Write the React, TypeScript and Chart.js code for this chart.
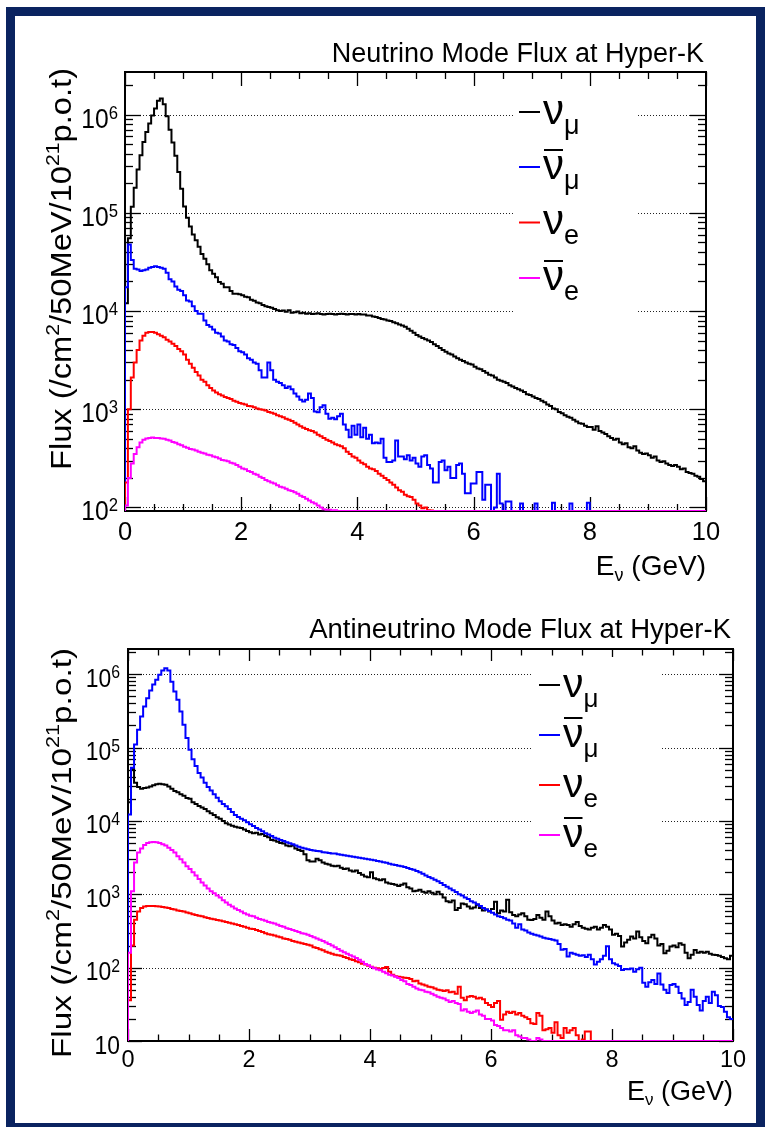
import React, { useEffect, useRef } from "react";
import { Chart, registerables } from "chart.js";

Chart.register(...registerables);

// ---------- data: 200 bins of 50 MeV, 0 - 10 GeV ----------
const N_BINS = 200;
const E_MAX = 10;
const BIN_EDGES: number[] = Array.from({ length: N_BINS + 1 }, (_, i) => (i * E_MAX) / N_BINS);

// Neutrino mode (FHC)
const FHC_NUMU = [
  1.2e4, 5.5e4, 1.15e5, 1.8e5, 2.75e5, 3.85e5, 5.25e5, 6.65e5, 8.1e5, 9.8e5,
  1.15e6, 1.38e6, 1.46e6, 1.27e6, 9.6e5, 7.0e5, 5.2e5, 3.8e5, 2.6e5, 1.76e5,
  1.16e5, 8.9e4, 7.25e4, 6.0e4, 5.25e4, 4.5e4, 3.8e4, 3.4e4, 3.0e4, 2.6e4,
  2.4e4, 2.2e4, 1.97e4, 1.9e4, 1.75e4, 1.75e4, 1.6e4, 1.5e4, 1.5e4, 1.48e4,
  1.45e4, 1.4e4, 1.38e4, 1.3e4, 1.27e4, 1.22e4, 1.2e4, 1.15e4, 1.12e4, 1.1e4,
  1.08e4, 1.05e4, 1.02e4, 1.0e4, 1.01e4, 9.8e3, 1.02e4, 9.6e3, 9.7e3, 9.9e3,
  9.5e3, 9.6e3, 9.4e3, 9.5e3, 9.3e3, 9.4e3, 9.5e3, 9.3e3, 9.2e3, 9.3e3,
  9.4e3, 9.3e3, 9.2e3, 9.3e3, 9.4e3, 9.3e3, 9.2e3, 9.3e3, 9.3e3, 9.2e3,
  9.3e3, 9.2e3, 9.2e3, 9.0e3, 9.0e3, 8.8e3, 8.7e3, 8.5e3, 8.3e3, 8.2e3,
  8.0e3, 7.9e3, 7.7e3, 7.5e3, 7.3e3, 7.1e3, 6.9e3, 6.6e3, 6.3e3, 6.0e3,
  5.7e3, 5.5e3, 5.3e3, 5.15e3, 5.0e3, 4.85e3, 4.6e3, 4.4e3, 4.2e3, 4.0e3,
  3.85e3, 3.7e3, 3.6e3, 3.45e3, 3.3e3, 3.2e3, 3.1e3, 3.0e3, 2.9e3, 2.85e3,
  2.7e3, 2.6e3, 2.55e3, 2.45e3, 2.35e3, 2.25e3, 2.2e3, 2.1e3, 2.0e3, 1.95e3,
  1.9e3, 1.85e3, 1.75e3, 1.7e3, 1.65e3, 1.6e3, 1.55e3, 1.5e3, 1.42e3, 1.4e3,
  1.35e3, 1.3e3, 1.27e3, 1.22e3, 1.18e3, 1.12e3, 1.08e3, 1.02e3, 1.0e3, 9.4e2,
  9.1e2, 8.7e2, 8.4e2, 8.2e2, 7.8e2, 7.5e2, 7.2e2, 7.1e2, 6.8e2, 6.6e2,
  6.6e2, 6.2e2, 6.7e2, 6.0e2, 5.8e2, 5.6e2, 5.3e2, 5.1e2, 4.9e2, 5.0e2,
  4.6e2, 4.4e2, 4.5e2, 4.1e2, 4.0e2, 4.2e2, 3.8e2, 3.6e2, 3.5e2, 3.55e2,
  3.4e2, 3.2e2, 3.3e2, 3.0e2, 2.9e2, 2.95e2, 2.8e2, 2.7e2, 2.65e2, 2.7e2,
  2.6e2, 2.45e2, 2.5e2, 2.3e2, 2.25e2, 2.2e2, 2.1e2, 2.05e2, 1.95e2, 1.85e2,
];
const FHC_NUMUBAR = [
  1.75e4, 4.75e4, 3.3e4, 2.7e4, 2.65e4, 2.55e4, 2.6e4, 2.65e4, 2.75e4, 2.8e4,
  2.85e4, 2.8e4, 2.75e4, 2.7e4, 2.45e4, 2.1e4, 2.0e4, 1.78e4, 1.65e4, 1.6e4,
  1.45e4, 1.28e4, 1.25e4, 1.12e4, 1.0e4, 9.4e3, 9.4e3, 8.0e3, 7.2e3, 6.9e3,
  6.5e3, 6.0e3, 5.9e3, 5.5e3, 5.0e3, 4.9e3, 4.6e3, 4.5e3, 4.2e3, 3.9e3,
  3.8e3, 3.6e3, 3.3e3, 3.2e3, 3.0e3, 2.9e3, 2.5e3, 2.1e3, 2.1e3, 3.0e3,
  2.5e3, 2.0e3, 1.9e3, 1.85e3, 1.75e3, 1.65e3, 1.7e3, 1.6e3, 1.45e3, 1.35e3,
  1.25e3, 1.2e3, 1.25e3, 1.45e3, 1.3e3, 9.5e2, 9.3e2, 1.05e3, 1.1e3, 9.0e2,
  8.0e2, 8.2e2, 7.9e2, 8.5e2, 9.0e2, 7.0e2, 6.2e2, 5.2e2, 6.8e2, 5.5e2,
  7.0e2, 5.2e2, 6.5e2, 5.0e2, 5.5e2, 4.5e2, 4.6e2, 4.5e2, 5.0e2, 3.2e2,
  2.9e2, 2.9e2, 3.0e2, 4.8e2, 3.3e2, 3.3e2, 3.1e2, 3.4e2, 3.0e2, 3.2e2,
  2.8e2, 2.6e2, 3.3e2, 3.4e2, 2.7e2, 2.5e2, 1.8e2, 1.8e2, 2.9e2, 3.0e2,
  2.4e2, 2.6e2, 2.0e2, 2.0e2, 2.7e2, 2.8e2, 2.2e2, 1.4e2, 1.4e2, 1.75e2,
  1.75e2, 2.3e2, 2.3e2, 1.2e2, 1.7e2, 1.7e2, 0, 1.0e2, 2.2e2, 1.1e2,
  0, 1.15e2, 1.15e2, 0, 0, 0, 1.1e2, 0, 0, 0,
  0, 1.1e2, 0, 0, 0, 0, 0, 1.12e2, 0, 0,
  0, 0, 0, 1.1e2, 0, 0, 0, 0, 0, 1.12e2,
  0, 0, 0, 0, 0, 0, 0, 0, 0, 0,
  0, 0, 0, 0, 0, 0, 0, 0, 0, 0,
  0, 0, 0, 0, 0, 0, 0, 0, 0, 0,
  0, 0, 0, 0, 0, 0, 0, 0, 0, 0,
];
const FHC_NUE = [
  1.8e2, 1.0e3, 2.1e3, 3.0e3, 4.0e3, 5.0e3, 5.6e3, 6.0e3, 6.1e3, 6.1e3,
  6.0e3, 5.8e3, 5.6e3, 5.4e3, 5.1e3, 4.9e3, 4.65e3, 4.4e3, 4.1e3, 3.9e3,
  3.6e3, 3.2e3, 2.9e3, 2.65e3, 2.4e3, 2.2e3, 2.0e3, 1.9e3, 1.75e3, 1.65e3,
  1.55e3, 1.48e3, 1.42e3, 1.38e3, 1.33e3, 1.3e3, 1.27e3, 1.22e3, 1.19e3, 1.16e3,
  1.14e3, 1.12e3, 1.08e3, 1.07e3, 1.05e3, 1.02e3, 1.0e3, 9.9e2, 9.7e2, 9.4e2,
  9.2e2, 9.0e2, 8.7e2, 8.5e2, 8.3e2, 8.0e2, 7.8e2, 7.6e2, 7.3e2, 7.0e2,
  6.7e2, 6.5e2, 6.3e2, 6.1e2, 6.0e2, 5.8e2, 5.5e2, 5.3e2, 5.1e2, 4.9e2,
  4.75e2, 4.6e2, 4.4e2, 4.3e2, 4.2e2, 4.0e2, 3.7e2, 3.5e2, 3.3e2, 3.2e2,
  3.0e2, 2.85e2, 2.75e2, 2.6e2, 2.5e2, 2.45e2, 2.35e2, 2.2e2, 2.1e2, 2.0e2,
  1.9e2, 1.8e2, 1.7e2, 1.6e2, 1.5e2, 1.45e2, 1.35e2, 1.3e2, 1.28e2, 1.2e2,
  1.1e2, 1.05e2, 9.8e1, 1.0e2, 9.4e1, 9.3e1, 0, 0, 0, 0,
  0, 0, 0, 0, 0, 0, 0, 0, 0, 0,
  0, 0, 0, 0, 0, 0, 0, 0, 0, 0,
  0, 0, 0, 0, 0, 0, 0, 0, 0, 0,
  0, 0, 0, 0, 0, 0, 0, 0, 0, 0,
  0, 0, 0, 0, 0, 0, 0, 0, 0, 0,
  0, 0, 0, 0, 0, 0, 0, 0, 0, 0,
  0, 0, 0, 0, 0, 0, 0, 0, 0, 0,
  0, 0, 0, 0, 0, 0, 0, 0, 0, 0,
  0, 0, 0, 0, 0, 0, 0, 0, 0, 0,
];
const FHC_NUEBAR = [
  1.05e2, 2.0e2, 2.8e2, 3.5e2, 4.1e2, 4.6e2, 4.9e2, 5.05e2, 5.1e2, 5.15e2,
  5.1e2, 5.1e2, 5.05e2, 5.0e2, 4.9e2, 4.8e2, 4.65e2, 4.55e2, 4.4e2, 4.3e2,
  4.15e2, 4.05e2, 3.95e2, 3.9e2, 3.8e2, 3.7e2, 3.6e2, 3.55e2, 3.45e2, 3.4e2,
  3.3e2, 3.25e2, 3.15e2, 3.05e2, 3.0e2, 2.95e2, 2.85e2, 2.8e2, 2.7e2, 2.6e2,
  2.5e2, 2.45e2, 2.35e2, 2.3e2, 2.2e2, 2.15e2, 2.05e2, 2.0e2, 1.9e2, 1.85e2,
  1.8e2, 1.75e2, 1.68e2, 1.63e2, 1.6e2, 1.55e2, 1.5e2, 1.47e2, 1.43e2, 1.38e2,
  1.32e2, 1.28e2, 1.23e2, 1.18e2, 1.13e2, 1.1e2, 1.05e2, 1.0e2, 9.6e1, 9.5e1,
  9.5e1, 9.3e1, 9.4e1, 0, 0, 0, 0, 0, 0, 0,
  0, 0, 0, 0, 0, 0, 0, 0, 0, 0,
  0, 0, 0, 0, 0, 0, 0, 0, 0, 0,
  0, 0, 0, 0, 0, 0, 0, 0, 0, 0,
  0, 0, 0, 0, 0, 0, 0, 0, 0, 0,
  0, 0, 0, 0, 0, 0, 0, 0, 0, 0,
  0, 0, 0, 0, 0, 0, 0, 0, 0, 0,
  0, 0, 0, 0, 0, 0, 0, 0, 0, 0,
  0, 0, 0, 0, 0, 0, 0, 0, 0, 0,
  0, 0, 0, 0, 0, 0, 0, 0, 0, 0,
  0, 0, 0, 0, 0, 0, 0, 0, 0, 0,
  0, 0, 0, 0, 0, 0, 0, 0, 0, 0,
  0, 0, 0, 0, 0, 0, 0, 0, 0, 0,
];

// Antineutrino mode (RHC)
const RHC_NUMU = [
  1.8e4, 5.1e4, 3.3e4, 2.9e4, 2.75e4, 2.8e4, 2.85e4, 2.95e4, 3.05e4, 3.15e4,
  3.2e4, 3.15e4, 3.1e4, 2.95e4, 2.75e4, 2.55e4, 2.45e4, 2.3e4, 2.2e4, 2.05e4,
  2.0e4, 1.8e4, 1.7e4, 1.6e4, 1.52e4, 1.45e4, 1.35e4, 1.27e4, 1.2e4, 1.12e4,
  1.07e4, 1.0e4, 9.3e3, 8.9e3, 8.6e3, 8.3e3, 8.1e3, 8.0e3, 7.6e3, 7.3e3,
  7.0e3, 6.8e3, 6.9e3, 6.5e3, 6.6e3, 6.2e3, 6.0e3, 5.5e3, 5.4e3, 5.2e3,
  5.0e3, 4.9e3, 4.6e3, 4.5e3, 4.6e3, 4.2e3, 4.0e3, 3.9e3, 3.5e3, 2.9e3,
  2.8e3, 2.8e3, 3.05e3, 2.9e3, 2.7e3, 2.6e3, 2.55e3, 2.45e3, 2.4e3, 2.45e3,
  2.3e3, 2.2e3, 2.25e3, 2.1e3, 2.05e3, 2.1e3, 1.95e3, 1.85e3, 1.75e3, 1.7e3,
  2.0e3, 1.65e3, 1.6e3, 1.55e3, 1.6e3, 1.45e3, 1.4e3, 1.38e3, 1.35e3, 1.3e3,
  1.35e3, 1.4e3, 1.25e3, 1.2e3, 1.1e3, 1.12e3, 1.15e3, 1.08e3, 1.05e3, 1.1e3,
  1.05e3, 1.0e3, 1.08e3, 1.0e3, 9.0e2, 8.0e2, 7.8e2, 8.2e2, 6.1e2, 6.5e2,
  7.5e2, 7.3e2, 6.8e2, 6.4e2, 6.6e2, 7.2e2, 6.5e2, 6.0e2, 6.2e2, 5.8e2,
  6.3e2, 7.9e2, 5.5e2, 6.0e2, 5.8e2, 8.4e2, 5.7e2, 5.2e2, 5.0e2, 5.3e2,
  5.5e2, 5.0e2, 4.5e2, 4.45e2, 4.6e2, 5.2e2, 4.8e2, 4.5e2, 5.8e2, 5.0e2,
  4.4e2, 4.0e2, 4.1e2, 3.8e2, 3.9e2, 3.8e2, 3.6e2, 3.9e2, 4.2e2, 3.7e2,
  3.5e2, 3.4e2, 3.3e2, 3.5e2, 3.6e2, 3.3e2, 3.5e2, 3.8e2, 3.6e2, 3.3e2,
  2.8e2, 2.9e2, 2.7e2, 1.94e2, 2.2e2, 2.4e2, 2.65e2, 2.5e2, 3.1e2, 2.6e2,
  2.3e2, 2.15e2, 2.6e2, 2.8e2, 2.5e2, 2.0e2, 2.1e2, 1.57e2, 1.7e2, 1.94e2,
  2.0e2, 1.9e2, 2.15e2, 2.05e2, 1.6e2, 1.34e2, 1.5e2, 1.74e2, 1.6e2, 1.65e2,
  1.6e2, 1.65e2, 1.55e2, 1.5e2, 1.49e2, 1.45e2, 1.4e2, 1.34e2, 1.3e2, 1.45e2,
];
const RHC_NUMUBAR = [
  1.22e4, 5.3e4, 1.1e5, 1.75e5, 2.65e5, 3.63e5, 4.7e5, 6.0e5, 7.2e5, 8.4e5,
  9.8e5, 1.12e6, 1.2e6, 1.12e6, 7.9e5, 5.8e5, 4.47e5, 3.1e5, 2.04e5, 1.35e5,
  9.3e4, 6.9e4, 5.6e4, 4.5e4, 3.9e4, 3.3e4, 2.9e4, 2.6e4, 2.3e4, 2.07e4,
  1.85e4, 1.7e4, 1.58e4, 1.45e4, 1.32e4, 1.2e4, 1.13e4, 1.07e4, 1.02e4, 9.6e3,
  9.0e3, 8.5e3, 8.0e3, 7.6e3, 7.2e3, 6.8e3, 6.5e3, 6.2e3, 5.9e3, 5.7e3,
  5.5e3, 5.3e3, 5.1e3, 4.95e3, 4.8e3, 4.6e3, 4.45e3, 4.3e3, 4.2e3, 4.1e3,
  4.0e3, 3.95e3, 3.9e3, 3.85e3, 3.75e3, 3.7e3, 3.65e3, 3.6e3, 3.6e3, 3.5e3,
  3.45e3, 3.4e3, 3.35e3, 3.3e3, 3.25e3, 3.2e3, 3.15e3, 3.1e3, 3.05e3, 3.0e3,
  2.95e3, 2.9e3, 2.85e3, 2.8e3, 2.72e3, 2.68e3, 2.6e3, 2.55e3, 2.5e3, 2.45e3,
  2.4e3, 2.35e3, 2.28e3, 2.2e3, 2.15e3, 2.08e3, 2.0e3, 1.9e3, 1.8e3, 1.72e3,
  1.65e3, 1.58e3, 1.5e3, 1.42e3, 1.34e3, 1.27e3, 1.2e3, 1.13e3, 1.07e3, 1.0e3,
  9.6e2, 9.0e2, 8.6e2, 8.0e2, 7.7e2, 7.3e2, 6.9e2, 6.5e2, 6.2e2, 5.9e2,
  5.6e2, 5.3e2, 5.0e2, 4.9e2, 4.7e2, 4.5e2, 4.4e2, 4.0e2, 3.5e2, 3.9e2,
  3.3e2, 3.2e2, 3.0e2, 2.9e2, 2.8e2, 2.75e2, 2.65e2, 2.55e2, 2.5e2, 2.45e2,
  2.4e2, 2.35e2, 2.1e2, 1.75e2, 1.8e2, 1.42e2, 1.6e2, 1.55e2, 1.5e2, 1.45e2,
  1.48e2, 1.4e2, 1.5e2, 1.3e2, 1.1e2, 1.2e2, 1.3e2, 1.45e2, 1.95e2, 1.3e2,
  1.15e2, 1.1e2, 1.05e2, 9.3e1, 9.6e1, 9.5e1, 9.7e1, 8.8e1, 9.5e1, 1.0e2,
  6.2e1, 5.5e1, 6.3e1, 6.8e1, 6.0e1, 8.3e1, 5.9e1, 5.0e1, 4.5e1, 5.8e1,
  6.0e1, 5.5e1, 4.5e1, 3.8e1, 3.1e1, 3.4e1, 5.0e1, 4.0e1, 3.1e1, 2.6e1,
  3.5e1, 4.0e1, 3.3e1, 4.7e1, 4.2e1, 3.0e1, 2.9e1, 2.5e1, 2.1e1, 2.0e1,
];
const RHC_NUE = [
  3.6e1, 2.0e2, 4.5e2, 5.8e2, 6.5e2, 6.8e2, 6.9e2, 6.9e2, 6.9e2, 6.85e2,
  6.8e2, 6.7e2, 6.6e2, 6.5e2, 6.3e2, 6.2e2, 6.0e2, 5.9e2, 5.8e2, 5.65e2,
  5.5e2, 5.35e2, 5.2e2, 5.1e2, 5.0e2, 4.85e2, 4.75e2, 4.65e2, 4.55e2, 4.45e2,
  4.4e2, 4.3e2, 4.2e2, 4.1e2, 4.0e2, 3.9e2, 3.8e2, 3.7e2, 3.6e2, 3.5e2,
  3.4e2, 3.35e2, 3.25e2, 3.15e2, 3.05e2, 2.95e2, 2.85e2, 2.8e2, 2.75e2, 2.65e2,
  2.6e2, 2.5e2, 2.45e2, 2.4e2, 2.3e2, 2.25e2, 2.2e2, 2.15e2, 2.1e2, 2.05e2,
  2.0e2, 1.9e2, 1.85e2, 1.78e2, 1.72e2, 1.65e2, 1.6e2, 1.55e2, 1.5e2, 1.48e2,
  1.45e2, 1.4e2, 1.35e2, 1.3e2, 1.27e2, 1.22e2, 1.18e2, 1.13e2, 1.1e2, 1.06e2,
  1.03e2, 1.0e2, 9.8e1, 9.6e1, 9.9e1, 1.02e2, 8.8e1, 8.0e1, 7.6e1, 7.5e1,
  7.4e1, 7.3e1, 7.2e1, 7.0e1, 6.5e1, 6.6e1, 6.1e1, 5.9e1, 5.7e1, 5.5e1,
  5.4e1, 5.2e1, 5.0e1, 4.9e1, 4.8e1, 4.9e1, 4.6e1, 4.7e1, 4.4e1, 5.5e1,
  3.9e1, 3.6e1, 4.0e1, 4.1e1, 4.0e1, 3.8e1, 3.9e1, 3.7e1, 3.3e1, 3.1e1,
  2.9e1, 3.3e1, 3.5e1, 1.95e1, 2.3e1, 2.5e1, 2.4e1, 2.5e1, 2.3e1, 2.4e1,
  2.2e1, 2.1e1, 2.0e1, 1.75e1, 1.7e1, 2.4e1, 2.2e1, 1.4e1, 1.45e1, 1.5e1,
  1.3e1, 1.8e1, 1.2e1, 1.1e1, 1.5e1, 1.3e1, 1.4e1, 1.5e1, 1.2e1, 1.0e1,
  1.05e1, 1.35e1, 1.35e1, 0, 0, 0, 0, 0, 0, 0,
  0, 0, 0, 0, 0, 0, 0, 0, 0, 0,
  0, 0, 0, 0, 0, 0, 0, 0, 0, 0,
  0, 0, 0, 0, 0, 0, 0, 0, 0, 0,
  0, 0, 0, 0, 0, 0, 0, 0, 0, 0,
];
const RHC_NUEBAR = [
  1.6e2, 1.1e3, 2.7e3, 3.7e3, 4.2e3, 4.7e3, 5.0e3, 5.1e3, 5.15e3, 5.1e3,
  5.0e3, 4.8e3, 4.6e3, 4.3e3, 4.0e3, 3.7e3, 3.3e3, 3.0e3, 2.7e3, 2.4e3,
  2.2e3, 2.0e3, 1.8e3, 1.62e3, 1.45e3, 1.32e3, 1.2e3, 1.1e3, 1.03e3, 9.6e2,
  9.0e2, 8.3e2, 7.7e2, 7.2e2, 6.8e2, 6.4e2, 6.1e2, 5.8e2, 5.5e2, 5.3e2,
  5.1e2, 5.0e2, 4.8e2, 4.6e2, 4.5e2, 4.35e2, 4.2e2, 4.1e2, 4.0e2, 3.85e2,
  3.7e2, 3.6e2, 3.45e2, 3.35e2, 3.25e2, 3.15e2, 3.05e2, 2.95e2, 2.9e2, 2.8e2,
  2.7e2, 2.6e2, 2.5e2, 2.4e2, 2.3e2, 2.2e2, 2.1e2, 2.0e2, 1.9e2, 1.8e2,
  1.7e2, 1.62e2, 1.55e2, 1.48e2, 1.42e2, 1.35e2, 1.28e2, 1.2e2, 1.12e2, 1.08e2,
  1.02e2, 9.8e1, 9.4e1, 9.2e1, 8.8e1, 8.4e1, 8.0e1, 7.8e1, 7.5e1, 7.2e1,
  6.8e1, 6.5e1, 6.0e1, 5.8e1, 5.5e1, 5.2e1, 5.0e1, 4.9e1, 4.7e1, 4.6e1,
  4.4e1, 4.2e1, 4.0e1, 3.9e1, 3.8e1, 3.6e1, 3.4e1, 3.5e1, 3.3e1, 3.2e1,
  2.6e1, 2.7e1, 2.5e1, 2.4e1, 2.5e1, 2.6e1, 2.3e1, 2.2e1, 2.0e1, 2.0e1,
  1.9e1, 1.65e1, 1.6e1, 1.5e1, 1.4e1, 1.4e1, 1.35e1, 1.4e1, 1.2e1, 1.15e1,
  1.1e1, 1.1e1, 1.05e1, 0, 0, 1.1e1, 1.05e1, 0, 0, 0,
  0, 0, 0, 0, 0, 0, 0, 0, 0, 0,
  0, 0, 0, 0, 0, 0, 0, 0, 0, 0,
  0, 0, 0, 0, 0, 0, 0, 0, 0, 0,
  0, 0, 0, 0, 0, 0, 0, 0, 0, 0,
  0, 0, 0, 0, 0, 0, 0, 0, 0, 0,
  0, 0, 0, 0, 0, 0, 0, 0, 0, 0,
];

const SERIES_NAMES = ["numu", "numubar", "nue", "nuebar"];
const SERIES_COLORS = ["#000000", "#0000ff", "#ff0000", "#ff00ff"];
const LEGEND_SUBSCRIPTS = ["μ", "μ", "e", "e"];
const LEGEND_BARRED = [false, true, false, true];
const X_TICK_LABELS = [0, 2, 4, 6, 8, 10];
const TOP_TITLE = "Neutrino Mode Flux at Hyper-K";
const BOTTOM_TITLE = "Antineutrino Mode Flux at Hyper-K";
const TOP_Y_LABEL_EXPS = [2, 3, 4, 5, 6];
const BOTTOM_Y_LABEL_EXPS = [1, 2, 3, 4, 5, 6];

const FONT = '"Liberation Sans", Arial, Helvetica, sans-serif';

type Seg = { t: string; s: number; dy?: number };

function segsWidth(ctx: CanvasRenderingContext2D, segs: Seg[]) {
  let w = 0;
  for (const g of segs) {
    ctx.font = `${g.s}px ${FONT}`;
    w += ctx.measureText(g.t).width;
  }
  return w;
}
function drawSegs(ctx: CanvasRenderingContext2D, segs: Seg[], x: number, y: number) {
  let cx = x;
  for (const g of segs) {
    ctx.font = `${g.s}px ${FONT}`;
    ctx.fillText(g.t, cx, y + (g.dy || 0));
    cx += ctx.measureText(g.t).width;
  }
  return cx;
}
function seg(ctx: CanvasRenderingContext2D, x0: number, y0: number, x1: number, y1: number) {
  ctx.beginPath();
  ctx.moveTo(x0, y0);
  ctx.lineTo(x1, y1);
  ctx.stroke();
}

interface PanelCfg {
  top: number;
  height: number;
  pad: { left: number; top: number; right: number; bottom: number };
  yMin: number;
  yMax: number;
  series: number[][];
  labelExps: number[];
  title: string;
  titleRight: number;
  titleBase: number;
  titleFs: number;
  yLabFs: number;
  yLabSupFs: number;
  yLabRight: number;
  yLabBaseOff: number;
  yLabSupOff: number;
  yLabSqueeze: number;
  xLabFs: number;
  xLabBase: number;
  xTitleFs: number;
  xTitleSubFs: number;
  xTitleBase: number;
  yTitleFs: number;
  yTitleX: number;
  yTitleEnd: number;
  yTitleLen: number;
  ticks: { yMaj: number; yMin: number; xMaj: number; xMin: number };
  legend: {
    x0: number; x1: number; y0: number; y1: number; rows: number[];
    lineX0: number; lineX1: number; textX: number; fs: number; subFs: number;
    baseOff: number; subDy: number; barOff: number;
  };
}

const TOP_PANEL: PanelCfg = {
  top: 0,
  height: 595,
  pad: { left: 125, top: 72, right: 61, bottom: 84 },
  yMin: 92.1,
  yMax: 2.71e6,
  series: [FHC_NUMU, FHC_NUMUBAR, FHC_NUE, FHC_NUEBAR],
  labelExps: TOP_Y_LABEL_EXPS,
  title: TOP_TITLE,
  titleRight: 704,
  titleBase: 62,
  titleFs: 27,
  yLabFs: 28,
  yLabSupFs: 19,
  yLabRight: 118,
  yLabBaseOff: 13,
  yLabSupOff: 4,
  yLabSqueeze: 0.88,
  xLabFs: 25.5,
  xLabBase: 540,
  xTitleFs: 28,
  xTitleSubFs: 18,
  xTitleBase: 575,
  yTitleFs: 29,
  yTitleX: 71,
  yTitleEnd: 68,
  yTitleLen: 402,
  ticks: { yMaj: 16, yMin: 8, xMaj: 14, xMin: 7 },
  legend: {
    x0: 515, x1: 637, y0: 95, y1: 318, rows: [112, 167, 222.5, 278],
    lineX0: 519, lineX1: 540, textX: 543, fs: 42, subFs: 27,
    baseOff: 11.5, subDy: 10, barOff: 17,
  },
};

const BOTTOM_PANEL: PanelCfg = {
  top: 595,
  height: 532,
  pad: { left: 128, top: 54, right: 34, bottom: 86 },
  yMin: 10,
  yMax: 2.2e6,
  series: [RHC_NUMU, RHC_NUMUBAR, RHC_NUE, RHC_NUEBAR],
  labelExps: BOTTOM_Y_LABEL_EXPS,
  title: BOTTOM_TITLE,
  titleRight: 731,
  titleBase: 43,
  titleFs: 27.5,
  yLabFs: 26,
  yLabSupFs: 18,
  yLabRight: 120,
  yLabBaseOff: 12.5,
  yLabSupOff: 4,
  yLabSqueeze: 0.88,
  xLabFs: 23.5,
  xLabBase: 472,
  xTitleFs: 27,
  xTitleSubFs: 17,
  xTitleBase: 505,
  yTitleFs: 28,
  yTitleX: 71,
  yTitleEnd: 53,
  yTitleLen: 410,
  ticks: { yMaj: 14, yMin: 8, xMaj: 12, xMin: 6.5 },
  legend: {
    x0: 533, x1: 662, y0: 62, y1: 258, rows: [90, 140, 190, 240],
    lineX0: 539, lineX1: 560, textX: 563, fs: 41, subFs: 26,
    baseOff: 12, subDy: 10, barOff: 17,
  },
};

function makePlugin(p: PanelCfg) {
  return {
    id: "rootStyle",
    beforeDatasetsDraw(chart: any) {
      const ctx: CanvasRenderingContext2D = chart.ctx;
      const a = chart.chartArea;
      const xs = chart.scales.x;
      const ys = chart.scales.y;
      ctx.save();
      // dotted horizontal grid at decades
      ctx.strokeStyle = "#222";
      ctx.lineWidth = 1;
      ctx.setLineDash([1, 2]);
      const eLo = Math.floor(Math.log10(p.yMin));
      const eHi = Math.ceil(Math.log10(p.yMax));
      for (let e = eLo; e <= eHi; e++) {
        const v = Math.pow(10, e);
        if (v <= p.yMin * 1.001 || v > p.yMax) continue;
        const y = Math.round(ys.getPixelForValue(v)) + 0.5;
        seg(ctx, a.left, y, a.right, y);
      }
      ctx.setLineDash([]);
      // ticks
      ctx.strokeStyle = "#000";
      ctx.lineWidth = 1.3;
      for (let k = 0; k <= 20; k++) {
        const x = Math.round(xs.getPixelForValue(k * 0.5)) + 0.5;
        const len = k % 4 === 0 ? p.ticks.xMaj : p.ticks.xMin;
        seg(ctx, x, a.bottom, x, a.bottom - len);
        seg(ctx, x, a.top, x, a.top + len);
      }
      for (let e = eLo; e <= eHi; e++) {
        for (let m = 1; m <= 9; m++) {
          const v = m * Math.pow(10, e);
          if (v < p.yMin || v > p.yMax) continue;
          const y = Math.round(ys.getPixelForValue(v)) + 0.5;
          const len = m === 1 ? p.ticks.yMaj : p.ticks.yMin;
          seg(ctx, a.left, y, a.left + len, y);
          seg(ctx, a.right, y, a.right - len, y);
        }
      }
      // frame
      ctx.lineWidth = 2;
      ctx.strokeRect(a.left, a.top, a.right - a.left, a.bottom - a.top);
      ctx.restore();
    },
    afterDatasetsDraw(chart: any) {
      const ctx: CanvasRenderingContext2D = chart.ctx;
      const a = chart.chartArea;
      const xs = chart.scales.x;
      const ys = chart.scales.y;
      ctx.save();
      ctx.fillStyle = "#000";
      ctx.textBaseline = "alphabetic";

      // legend
      const L = p.legend;
      ctx.fillStyle = "#fff";
      ctx.fillRect(L.x0, L.y0, L.x1 - L.x0, L.y1 - L.y0);
      for (let k = 0; k < SERIES_NAMES.length; k++) {
        const ry = L.rows[k];
        ctx.strokeStyle = SERIES_COLORS[k];
        ctx.lineWidth = 2;
        seg(ctx, L.lineX0, ry, L.lineX1, ry);
        ctx.fillStyle = "#000";
        ctx.font = `${L.fs}px ${FONT}`;
        ctx.textAlign = "left";
        ctx.fillText("ν", L.textX, ry + L.baseOff);
        const wNu = ctx.measureText("ν").width;
        if (LEGEND_BARRED[k]) {
          ctx.strokeStyle = "#000";
          ctx.lineWidth = 2;
          seg(ctx, L.textX + 1, ry - L.barOff, L.textX + wNu - 1, ry - L.barOff);
        }
        ctx.font = `${L.subFs}px ${FONT}`;
        ctx.fillText(LEGEND_SUBSCRIPTS[k], L.textX + wNu, ry + L.baseOff + L.subDy);
      }

      ctx.fillStyle = "#000";
      // y tick labels (slightly condensed like the original)
      for (const e of p.labelExps) {
        const y = ys.getPixelForValue(Math.pow(10, e));
        ctx.textAlign = "left";
        ctx.font = `${p.yLabFs}px ${FONT}`;
        const wBase = ctx.measureText("10").width;
        let wSup = 0;
        if (e !== 1) {
          ctx.font = `${p.yLabSupFs}px ${FONT}`;
          wSup = ctx.measureText(String(e)).width;
        }
        const sq = p.yLabSqueeze;
        ctx.save();
        ctx.translate(p.yLabRight, 0);
        ctx.scale(sq, 1);
        const x0 = -(wBase + wSup);
        ctx.font = `${p.yLabFs}px ${FONT}`;
        ctx.fillText("10", x0, y + p.yLabBaseOff);
        if (e !== 1) {
          ctx.font = `${p.yLabSupFs}px ${FONT}`;
          ctx.fillText(String(e), x0 + wBase, y + p.yLabSupOff);
        }
        ctx.restore();
      }
      // x tick labels
      ctx.textAlign = "center";
      ctx.font = `${p.xLabFs}px ${FONT}`;
      for (const v of X_TICK_LABELS) {
        ctx.fillText(String(v), xs.getPixelForValue(v), p.xLabBase);
      }
      // x title
      ctx.textAlign = "left";
      const xt: Seg[] = [
        { t: "E", s: p.xTitleFs },
        { t: "ν", s: p.xTitleSubFs, dy: p.xTitleFs * 0.2 },
        { t: " (GeV)", s: p.xTitleFs },
      ];
      drawSegs(ctx, xt, a.right - segsWidth(ctx, xt), p.xTitleBase);
      // y title (rotated, aligned to axis top)
      const F = p.yTitleFs;
      const yt: Seg[] = [
        { t: "Flux (/cm", s: F },
        { t: "2", s: F * 0.65, dy: -F * 0.42 },
        { t: "/50MeV/10", s: F },
        { t: "21", s: F * 0.65, dy: -F * 0.42 },
        { t: "p.o.t)", s: F },
      ];
      const wt = segsWidth(ctx, yt);
      ctx.save();
      ctx.translate(p.yTitleX, p.yTitleEnd);
      ctx.rotate(-Math.PI / 2);
      ctx.scale(p.yTitleLen / wt, 1);
      drawSegs(ctx, yt, -wt, 0);
      ctx.restore();
      // title
      ctx.textAlign = "right";
      ctx.font = `${p.titleFs}px ${FONT}`;
      ctx.fillText(p.title, p.titleRight, p.titleBase);
      ctx.restore();
    },
  };
}

function FluxPanel({ cfg }: { cfg: PanelCfg }) {
  const ref = useRef<HTMLCanvasElement | null>(null);
  useEffect(() => {
    const canvas = ref.current;
    if (!canvas) return;
    const datasets = cfg.series.map((vals, k) => {
      const pts = [{ x: BIN_EDGES[0], y: cfg.yMin }];
      vals.forEach((v, i) => pts.push({ x: BIN_EDGES[i], y: Math.max(v, cfg.yMin) }));
      pts.push({ x: BIN_EDGES[N_BINS], y: Math.max(vals[vals.length - 1], cfg.yMin) });
      return {
        label: SERIES_NAMES[k],
        data: pts,
        borderColor: SERIES_COLORS[k],
        backgroundColor: SERIES_COLORS[k],
        borderWidth: 2,
        pointRadius: 0,
        pointHoverRadius: 0,
        stepped: "before" as const,
        fill: false,
        tension: 0,
        order: SERIES_NAMES.length - k,
      };
    });
    const chart = new Chart(canvas, {
      type: "line",
      data: { datasets },
      options: {
        responsive: false,
        animation: false,
        devicePixelRatio: 1,
        events: [],
        layout: { padding: cfg.pad },
        plugins: {
          legend: { display: false },
          title: { display: false },
          tooltip: { enabled: false },
        },
        scales: {
          x: { type: "linear", min: 0, max: E_MAX, display: false },
          y: { type: "logarithmic", min: cfg.yMin, max: cfg.yMax, display: false },
        },
      } as any,
      plugins: [makePlugin(cfg)],
    });
    return () => chart.destroy();
  }, [cfg]);
  return (
    <canvas
      ref={ref}
      width={767}
      height={cfg.height}
      style={{ position: "absolute", left: 0, top: cfg.top, width: 767, height: cfg.height }}
    />
  );
}

export default function App() {
  return (
    <div
      style={{
        position: "absolute",
        left: 0,
        top: 0,
        width: 767,
        height: 1127,
        background: "#ffffff",
        overflow: "hidden",
      }}
    >
      <div
        style={{
          position: "absolute",
          left: 6,
          top: 7,
          width: 759,
          height: 1125,
          border: "9px solid #0a2360",
          boxSizing: "border-box",
        }}
      />
      <FluxPanel cfg={TOP_PANEL} />
      <FluxPanel cfg={BOTTOM_PANEL} />
    </div>
  );
}
